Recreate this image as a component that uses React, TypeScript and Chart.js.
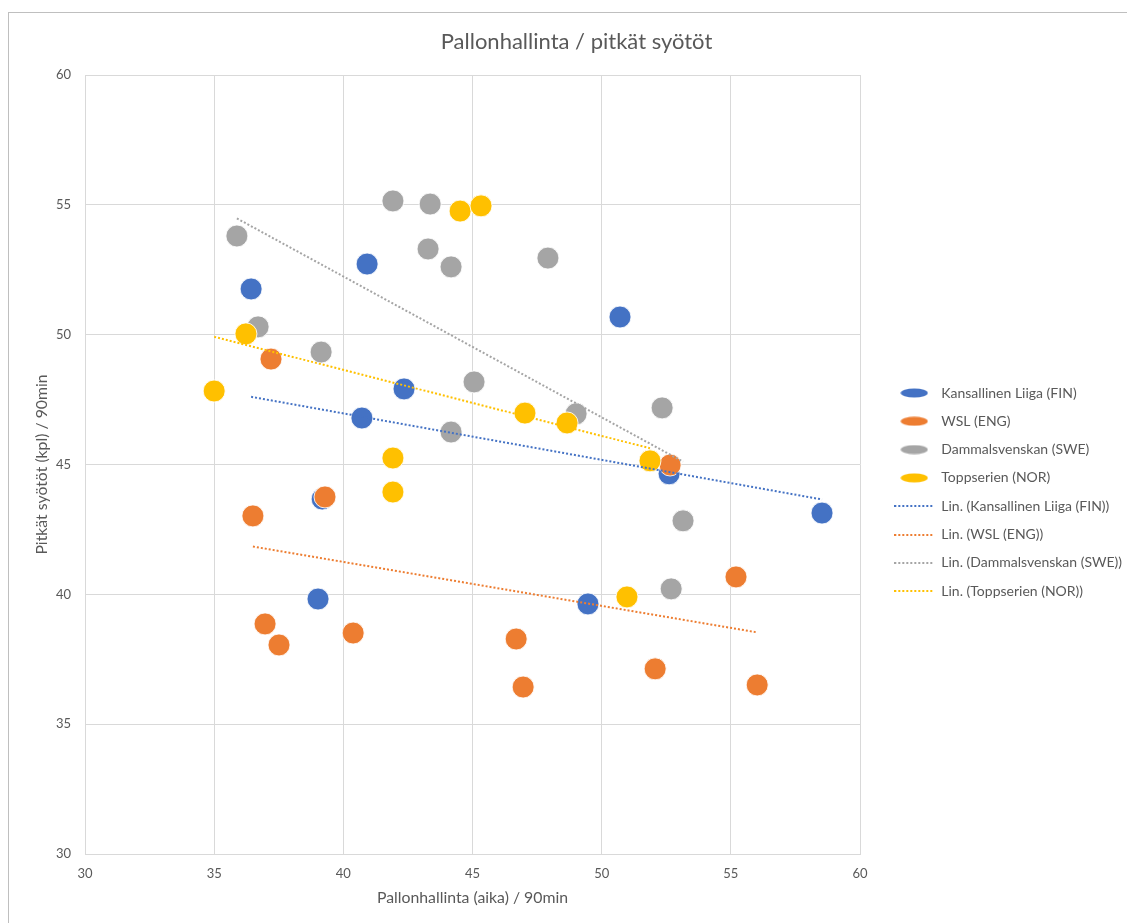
import React, { useEffect, useRef } from 'react';
import { Chart, registerables } from 'chart.js';

Chart.register(...registerables);

// ---- texts ----
const CHART_TITLE = 'Pallonhallinta / pitkät syötöt';
const X_TITLE = 'Pallonhallinta (aika) / 90min';
const Y_TITLE = 'Pitkät syötöt (kpl) / 90min';
const SERIES_NAMES = ['Kansallinen Liiga (FIN)', 'WSL (ENG)', 'Dammalsvenskan (SWE)', 'Toppserien (NOR)'];

// ---- axis ticks ----
const xTicks = [30, 35, 40, 45, 50, 55, 60];
const yTicks = [30, 35, 40, 45, 50, 55, 60];

// ---- data ----
const finX = [36.43, 40.92, 42.35, 40.72, 39.18, 39.02, 50.71, 52.61, 49.47, 58.53];
const finY = [51.76, 52.72, 47.91, 46.79, 43.67, 39.82, 50.68, 44.64, 39.63, 43.13];

const engX = [37.2, 36.5, 39.29, 36.97, 37.51, 40.38, 46.69, 46.96, 52.07, 56.02, 55.2, 52.65];
const engY = [49.06, 43.02, 43.75, 38.86, 38.05, 38.51, 38.28, 36.43, 37.13, 36.51, 40.67, 44.98];

const sweX = [35.88, 36.7, 39.14, 41.92, 43.36, 43.28, 44.17, 47.92, 45.06, 44.17, 49.01, 52.34, 53.15, 52.69];
const sweY = [53.8, 50.3, 49.33, 55.15, 55.03, 53.3, 52.61, 52.95, 48.18, 46.25, 46.95, 47.18, 42.83, 40.21];

const norX = [35.0, 36.23, 41.92, 41.92, 44.52, 45.33, 47.03, 48.66, 51.87, 50.98];
const norY = [47.83, 50.03, 45.25, 43.94, 54.76, 54.96, 46.98, 46.6, 45.14, 39.9];

// ---- styles ----
const COLORS = ['#4472C4', '#ED7D31', '#A5A5A5', '#FFC000'];
const TEXT_COLOR = '#595959';
const GRID_COLOR = '#d9d9d9';
const FONT = 'Lato, "Open Sans", sans-serif';

const SERIES_X = [finX, engX, sweX, norX];
const SERIES_Y = [finY, engY, sweY, norY];

// Excel-style linear trendline (least squares), spanning the series' x range
function linearTrend(xs: number[], ys: number[]) {
  const n = xs.length;
  const mx = xs.reduce((a, b) => a + b, 0) / n;
  const my = ys.reduce((a, b) => a + b, 0) / n;
  let sxy = 0;
  let sxx = 0;
  for (let i = 0; i < n; i++) {
    sxy += (xs[i] - mx) * (ys[i] - my);
    sxx += (xs[i] - mx) * (xs[i] - mx);
  }
  const slope = sxy / sxx;
  const icpt = my - slope * mx;
  const x0 = Math.min(...xs);
  const x1 = Math.max(...xs);
  return [
    { x: x0, y: icpt + slope * x0 },
    { x: x1, y: icpt + slope * x1 },
  ];
}

function makeEllipse(color: string) {
  const c = document.createElement('canvas');
  c.width = 28;
  c.height = 10;
  const g = c.getContext('2d')!;
  g.fillStyle = color;
  g.beginPath();
  g.ellipse(14, 5, 13.5, 4.5, 0, 0, Math.PI * 2);
  g.fill();
  return c;
}

function makeDots(color: string) {
  const c = document.createElement('canvas');
  c.width = 40;
  c.height = 2;
  const g = c.getContext('2d')!;
  g.fillStyle = color;
  for (let x = 0; x < 40; x += 4) g.fillRect(x, 0, 2, 2);
  return c;
}

export default function App() {
  const ref = useRef<HTMLCanvasElement | null>(null);

  useEffect(() => {
    if (!ref.current) return;
    const markers = [
      ...COLORS.map((c) => makeEllipse(c)),
      ...COLORS.map((c) => makeDots(c)),
    ];

    const scatterSets = SERIES_NAMES.map((name, i) => ({
      type: 'scatter' as const,
      label: name,
      data: SERIES_X[i].map((x, k) => ({ x, y: SERIES_Y[i][k] })),
      backgroundColor: COLORS[i],
      borderColor: 'rgba(255,255,255,0.85)',
      borderWidth: 1,
      pointRadius: 11,
      pointHoverRadius: 11,
      order: 4 - i,
    }));
    const trendSets = SERIES_NAMES.map((name, i) => ({
      type: 'line' as const,
      label: 'Lin. (' + name + ')',
      data: linearTrend(SERIES_X[i], SERIES_Y[i]),
      borderColor: COLORS[i],
      backgroundColor: COLORS[i],
      borderWidth: 2,
      borderDash: [2, 2],
      pointRadius: 0,
      fill: false,
      order: 0,
    }));

    const tickFont = { family: FONT, size: 13 };
    const axisTitleFont = { family: FONT, size: 15.8 };
    const RIGHT_BLOCK = 284; // room right of the plot: spacer + legend + spacer

    const chart = new Chart(ref.current, {
      type: 'scatter',
      data: { datasets: [...scatterSets, ...trendSets] as any },
      options: {
        responsive: false,
        animation: false,
        events: [],
        layout: { padding: 0 },
        plugins: {
          title: {
            display: true,
            text: CHART_TITLE,
            color: TEXT_COLOR,
            font: { family: FONT, size: 22, weight: 'normal' },
            padding: { top: 15.8, bottom: 19.8 },
          },
          legend: {
            position: 'right',
            align: 'center',
            maxWidth: 400,
            title: { display: true, text: '', padding: { top: 33.7, bottom: 0 }, font: { size: 12 } },
            labels: {
              usePointStyle: true,
              pointStyleWidth: 40,
              padding: 14.3,
              color: TEXT_COLOR,
              font: { family: FONT, size: 14 },
              generateLabels: (ch: any) => {
                const items = (Chart.defaults.plugins.legend.labels as any).generateLabels(ch);
                items.sort((a: any, b: any) => a.datasetIndex - b.datasetIndex);
                items.forEach((it: any) => {
                  it.pointStyle = markers[it.datasetIndex];
                });
                return items;
              },
            },
          },
          tooltip: { enabled: false },
        },
        scales: {
          x: {
            type: 'linear',
            position: 'bottom',
            min: xTicks[0],
            max: xTicks[xTicks.length - 1],
            ticks: { stepSize: xTicks[1] - xTicks[0], padding: 12, color: TEXT_COLOR, font: tickFont },
            grid: { color: GRID_COLOR, drawTicks: false },
            border: { color: GRID_COLOR },
            title: {
              display: true,
              text: X_TITLE,
              color: TEXT_COLOR,
              font: axisTitleFont,
              padding: { top: 0, bottom: 15.5 },
            },
            afterFit: (s: any) => {
              s.height = 69;
            },
          },
          y: {
            type: 'linear',
            position: 'left',
            min: yTicks[0],
            max: yTicks[yTicks.length - 1],
            ticks: { stepSize: yTicks[1] - yTicks[0], padding: 14, color: TEXT_COLOR, font: tickFont },
            grid: { color: GRID_COLOR, drawTicks: false },
            border: { color: GRID_COLOR },
            title: {
              display: true,
              text: Y_TITLE,
              color: TEXT_COLOR,
              font: axisTitleFont,
              padding: { top: 23, bottom: 0 },
            },
            afterFit: (s: any) => {
              s.width = 76;
            },
          },
          sp1: {
            type: 'linear',
            position: 'right',
            display: true,
            grid: { display: false, drawTicks: false },
            border: { display: false },
            ticks: { display: false },
            afterFit: (s: any) => {
              s.width = 20;
            },
          },
          sp2: {
            type: 'linear',
            position: 'right',
            weight: 2000,
            display: true,
            grid: { display: false, drawTicks: false },
            border: { display: false },
            ticks: { display: false },
            afterFit: (s: any) => {
              const lw = s.chart.legend ? s.chart.legend.width : 0;
              s.width = Math.max(0, RIGHT_BLOCK - 20 - lw);
            },
          },
        } as any,
      },
    });
    return () => chart.destroy();
  }, []);

  return (
    <div
      style={{
        position: 'absolute',
        left: 8,
        top: 12,
        width: 1119,
        height: 911,
        boxSizing: 'border-box',
        borderTop: '1px solid #bfbfbf',
        borderLeft: '1px solid #bfbfbf',
        overflow: 'hidden',
        background: '#fff',
      }}
    >
      <canvas ref={ref} width={1135} height={910} style={{ display: 'block', width: 1135, height: 910 }} />
    </div>
  );
}
